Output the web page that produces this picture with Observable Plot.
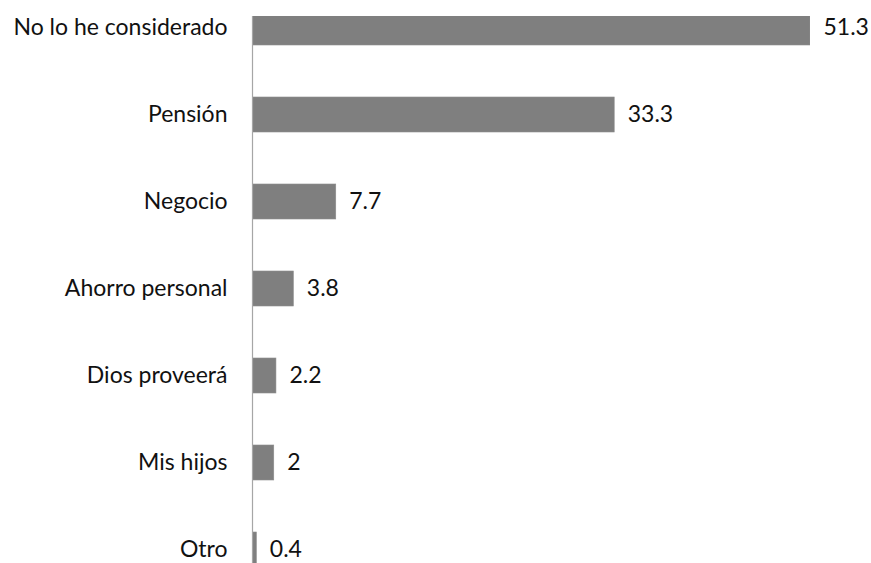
<!DOCTYPE html>
<html>
<head>
<meta charset="utf-8">
<script src="https://cdn.jsdelivr.net/npm/d3@7"></script>
<script src="https://cdn.jsdelivr.net/npm/@observablehq/plot@0.6"></script>
<style>
  html, body { margin: 0; padding: 0; background: #fff; overflow: hidden; }
  #chart svg { display: block; overflow: hidden; }
</style>
</head>
<body>
<div id="chart"></div>
<script>
const categories = ["No lo he considerado", "Pensión", "Negocio", "Ahorro personal", "Dios proveerá", "Mis hijos", "Otro"];
const values = [51.3, 33.3, 7.7, 3.8, 2.2, 2, 0.4];
const valueLabels = ["51.3", "33.3", "7.7", "3.8", "2.2", "2", "0.4"];

const data = categories.map((c, i) => ({cat: c, value: values[i], label: valueLabels[i]}));

const fontFamily = "Lato, 'Liberation Sans', sans-serif";

const chart = Plot.plot({
  width: 871,
  height: 563,
  marginLeft: 252,
  marginRight: 61,
  marginTop: 16,
  marginBottom: 0,
  style: {fontFamily: fontFamily, fontSize: "23px", color: "#111", background: "#fff"},
  x: {domain: [0, 51.3], axis: null},
  y: {domain: categories, range: [-16, 593], paddingInner: 0.598, paddingOuter: 0.299, align: 0.5, axis: null},
  marks: [
    Plot.barX(data, {x: "value", y: "cat", fill: "#7f7f7f", stroke: "#8c8c8c", strokeWidth: 0.6, clip: true}),
    Plot.ruleX([0], {stroke: "#a6a6a6", strokeWidth: 1.2}),
    Plot.text(data, {x: 0, y: "cat", text: "cat", textAnchor: "end", dx: -25, fill: "#111", fontSize: 23}),
    Plot.text(data, {x: "value", y: "cat", text: "label", textAnchor: "start", dx: 13, fill: "#111", fontSize: 23})
  ]
});
document.getElementById("chart").appendChild(chart);
</script>
</body>
</html>
